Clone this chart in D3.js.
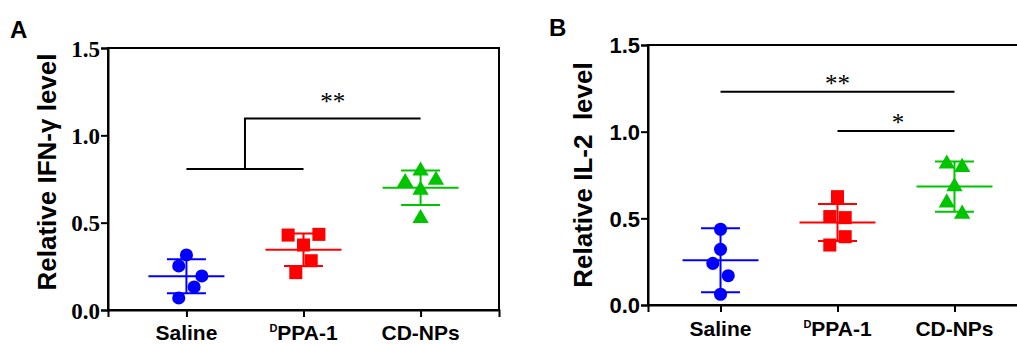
<!DOCTYPE html>
<html>
<head>
<meta charset="utf-8">
<script src="https://cdn.jsdelivr.net/npm/d3@7"></script>
<style>
    body { margin: 0; background: #fff; }
    svg { display: block; }
</style>
</head>
<body>
<div id="chart"></div>
<script>
// ---- data ----
var categories = ["Saline", "DPPA-1", "CD-NPs"];
var yTicks = [0, 0.5, 1.0, 1.5];

// panel A: relative IFN-gamma level (5 mice per group)
var ifnSaline = [0.315, 0.252, 0.195, 0.132, 0.069];
var ifnDppa = [0.429, 0.433, 0.372, 0.282, 0.214];
var ifnCdnp = [0.797, 0.731, 0.744, 0.687, 0.525];
var ifnMean = [0.193, 0.345, 0.70];
var ifnSD = [0.097, 0.093, 0.099];
var ifnSig = [{label: "**", from: 0, to: 1, low: 0.807, high: 1.097}];

// panel B: relative IL-2 level
var il2Saline = [0.437, 0.321, 0.240, 0.169, 0.062];
var il2Dppa = [0.625, 0.510, 0.504, 0.394, 0.346];
var il2Cdnp = [0.814, 0.795, 0.683, 0.590, 0.525];
var il2Mean = [0.258, 0.476, 0.683];
var il2SD = [0.185, 0.107, 0.145];
var il2Sig = [
    {label: "**", from: 0, to: 2, level: 1.231},
    {label: "*", from: 1, to: 2, level: 1.004}
];

// horizontal spread of the dots, in half-marker units
var spreadA = [[0, -1, 2, 1, -1], [-2, 2, 0, 1, -1], [0, -2, 2, 0, 0]];
var spreadB = [[0, 0, -1, 1, 0], [0, -1, 1, 1, -1], [-1, 1, 0, -1, 1]];

var colors = ["#0000ff", "#ff0000", "#00c400"];
var shapes = [d3.symbolCircle, d3.symbolSquare, d3.symbolTriangle];
var shapeSize = [135, 170, 115];

var svg = d3.select("#chart").append("svg")
    .attr("width", 1017)
    .attr("height", 344);

function drawPanel(cfg) {
    var g = svg.append("g");

    var x = d3.scalePoint()
        .domain(categories)
        .range([cfg.left, cfg.right])
        .padding(cfg.pad);

    var y = d3.scaleLinear()
        .domain([0, 1.5])
        .range([cfg.bottom, cfg.top]);

    // frame (GraphPad style box)
    g.append("rect")
        .attr("x", cfg.left)
        .attr("y", cfg.top)
        .attr("width", cfg.right - cfg.left)
        .attr("height", cfg.bottom - cfg.top)
        .attr("fill", "none")
        .attr("stroke", "#000")
        .attr("stroke-width", 2);

    // y axis
    var yAxis = g.append("g")
        .attr("transform", "translate(" + cfg.left + ",0)")
        .call(d3.axisLeft(y).tickValues(yTicks).tickFormat(d3.format(".1f")).tickSize(7).tickPadding(1));
    yAxis.select(".domain").attr("stroke-width", 2);
    yAxis.selectAll(".tick line").attr("stroke-width", 2);
    yAxis.selectAll("text")
        .attr("fill", "#000")
        .style("font-family", cfg.tickFont)
        .style("font-weight", "bold")
        .style("font-size", cfg.tickSize)
        .attr("dy", "0.36em");

    // x axis
    var xAxis = g.append("g")
        .attr("transform", "translate(0," + cfg.bottom + ")")
        .call(d3.axisBottom(x).tickSize(7).tickFormat(""));
    xAxis.select(".domain").attr("stroke-width", 2);
    xAxis.selectAll(".tick line").attr("stroke-width", 2);

    categories.forEach(function (c) {
        var t = g.append("text")
            .attr("x", x(c))
            .attr("y", cfg.labelY)
            .attr("text-anchor", "middle")
            .style("font-family", "Liberation Sans, Arial, sans-serif")
            .style("font-weight", "bold")
            .style("font-size", "21px");
        if (c === "DPPA-1") {
            t.append("tspan").text("D").style("font-size", "11px").attr("dy", -8);
            t.append("tspan").text("PPA-1").attr("dy", 8);
        } else {
            t.text(c);
        }
    });

    // y title
    g.append("text")
        .attr("transform", "translate(" + cfg.titleX + "," + cfg.titleY + ") rotate(-90)")
        .attr("text-anchor", "middle")
        .style("font-family", "Liberation Sans, Arial, sans-serif")
        .style("font-weight", "bold")
        .style("font-size", "26px")
        .style("white-space", "pre")
        .text(cfg.title);

    // panel letter
    g.append("text")
        .attr("x", cfg.letterX)
        .attr("y", cfg.letterY)
        .style("font-family", "Liberation Sans, Arial, sans-serif")
        .style("font-weight", "bold")
        .style("font-size", "24px")
        .text(cfg.letter);

    // mean +/- SD and dots
    cfg.groups.forEach(function (vals, i) {
        var cx = x(categories[i]);
        var col = colors[i];
        var m = cfg.mean[i], s = cfg.sd[i];
        var eb = g.append("g").attr("stroke", col).attr("stroke-width", 2);
        eb.append("line").attr("x1", cx - 38).attr("x2", cx + 38).attr("y1", y(m)).attr("y2", y(m));
        eb.append("line").attr("x1", cx).attr("x2", cx).attr("y1", y(m - s)).attr("y2", y(m + s));
        eb.append("line").attr("x1", cx - 19.5).attr("x2", cx + 19.5).attr("y1", y(m + s)).attr("y2", y(m + s));
        eb.append("line").attr("x1", cx - 19.5).attr("x2", cx + 19.5).attr("y1", y(m - s)).attr("y2", y(m - s));

        g.selectAll(".dot" + i)
            .data(vals)
            .enter().append("path")
            .attr("d", d3.symbol().type(shapes[i]).size(shapeSize[i]))
            .attr("transform", function (d, j) {
                return "translate(" + (cx + cfg.spread[i][j] * 7.7) + "," + y(d) + ")";
            })
            .attr("fill", col);
    });

    return {x: x, y: y, g: g};
}

// ---- panel A ----
var A = drawPanel({
    letter: "A", letterX: 10, letterY: 38,
    left: 108, right: 499, top: 48, bottom: 310, pad: 0.67,
    tickFont: "Liberation Serif, Times New Roman, serif", tickSize: "23px",
    title: "Relative IFN-\u03b3 level", titleX: 56, titleY: 172,
    labelY: 340,
    groups: [ifnSaline, ifnDppa, ifnCdnp], mean: ifnMean, sd: ifnSD, spread: spreadA
});

ifnSig.forEach(function (s) {
    var x0 = A.x(categories[s.from]), x1 = A.x(categories[s.to]);
    var xm = (x0 + x1) / 2;
    var x2 = A.x(categories[2]);
    var path = d3.path();
    path.moveTo(x0, A.y(s.low));
    path.lineTo(x1, A.y(s.low));
    path.moveTo(xm, A.y(s.low));
    path.lineTo(xm, A.y(s.high));
    path.lineTo(x2, A.y(s.high));
    A.g.append("path").attr("d", path.toString()).attr("fill", "none").attr("stroke", "#000").attr("stroke-width", 2);
    A.g.append("text")
        .attr("x", (xm + x2) / 2)
        .attr("y", A.y(s.high) - 8)
        .attr("text-anchor", "middle")
        .style("font-family", "Liberation Serif, Times New Roman, serif")
        .style("font-size", "25px")
        .text(s.label);
});

// ---- panel B ----
var B = drawPanel({
    letter: "B", letterX: 549, letterY: 36,
    left: 648, right: 1027, top: 45, bottom: 305, pad: 0.62,
    tickFont: "Liberation Sans, Arial, sans-serif", tickSize: "22px",
    title: "Relative IL-2  level", titleX: 592, titleY: 175,
    labelY: 336,
    groups: [il2Saline, il2Dppa, il2Cdnp], mean: il2Mean, sd: il2SD, spread: spreadB
});

il2Sig.forEach(function (s) {
    var x0 = B.x(categories[s.from]), x1 = B.x(categories[s.to]);
    B.g.append("line")
        .attr("x1", x0).attr("x2", x1)
        .attr("y1", B.y(s.level)).attr("y2", B.y(s.level))
        .attr("stroke", "#000").attr("stroke-width", 2);
    B.g.append("text")
        .attr("x", (x0 + x1) / 2 + (s.label === "*" ? 2 : 0))
        .attr("y", B.y(s.level))
        .attr("text-anchor", "middle")
        .style("font-family", "Liberation Serif, Times New Roman, serif")
        .style("font-size", "25px")
        .text(s.label);
});
</script>
</body>
</html>
